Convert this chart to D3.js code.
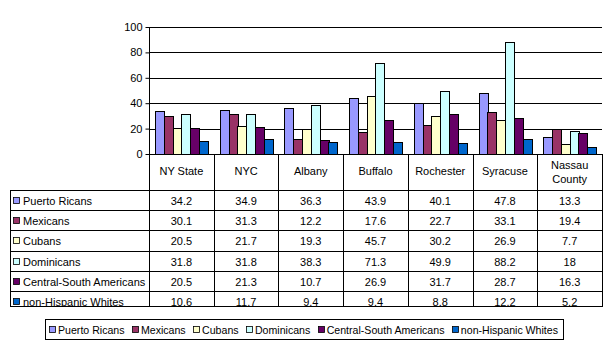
<!DOCTYPE html>
<html><head><meta charset="utf-8">
<script src="https://cdn.jsdelivr.net/npm/d3@7"></script>
<style>
body{margin:0;background:#fff;}
svg{display:block;}
text{font-family:"Liberation Sans",Arial,sans-serif;font-size:11px;fill:#000;}
</style></head>
<body>
<svg id="c" width="616" height="350"></svg>
<script>
const categories = ["NY State","NYC","Albany","Buffalo","Rochester","Syracuse","Nassau County"];
const series = ["Puerto Ricans","Mexicans","Cubans","Dominicans","Central-South Americans","non-Hispanic Whites"];
const colors = ["#9999FF","#993366","#FFFFCC","#CCFFFF","#660066","#0066CC"];
const puertoRicans = [34.2,34.9,36.3,43.9,40.1,47.8,13.3];
const mexicans = [30.1,31.3,12.2,17.6,22.7,33.1,19.4];
const cubans = [20.5,21.7,19.3,45.7,30.2,26.9,7.7];
const dominicans = [31.8,31.8,38.3,71.3,49.9,88.2,18];
const centralSouth = [20.5,21.3,10.7,26.9,31.7,28.7,16.3];
const nhWhites = [10.6,11.7,9.4,9.4,8.8,12.2,5.2];
const yTicks = [0,20,40,60,80,100];
const values = [puertoRicans,mexicans,cubans,dominicans,centralSouth,nhWhites];

(function(){
const svg = d3.select("#c");
const pLeft = 149, pRight = 602, pTop = 27, base = 154;
const x0 = d3.scaleBand().domain(categories).range([pLeft,pRight]);
const bw = x0.bandwidth();
const gap = 6;
const x1 = d3.scaleBand().domain(series).range([gap,bw-gap]);
const y = d3.scaleLinear().domain([0,100]).range([base,pTop]);

// gridlines
svg.append("g").selectAll("line").data(yTicks.filter(d=>d>0)).join("line")
  .attr("x1",pLeft).attr("x2",pRight).attr("y1",d=>Math.round(y(d))+0.5).attr("y2",d=>Math.round(y(d))+0.5)
  .attr("stroke","#000");

// y axis
const yAxis = d3.axisLeft(y).tickValues(yTicks).tickSize(4).tickPadding(3).tickFormat(d3.format("d"));
const ga = svg.append("g").attr("transform",`translate(${pLeft+0.5},0)`).call(yAxis);
ga.select(".domain").attr("d",`M0,${pTop}V${base}`).attr("stroke","#000");
ga.selectAll(".tick line").attr("stroke","#000");
ga.selectAll(".tick text").style("font-size","11px").style("font-family","Liberation Sans, Arial, sans-serif");

// bars
const gb = svg.append("g");
series.forEach((s,si)=>{
  gb.append("g").selectAll("rect").data(values[si]).join("rect")
    .attr("x",(d,i)=>Math.round(x0(categories[i])+x1(s))+0.5)
    .attr("y",d=>Math.round(y(d))+0.5)
    .attr("width",Math.round(x1.bandwidth()))
    .attr("height",d=>Math.round(base)-Math.round(y(d)))
    .attr("fill",colors[si]).attr("stroke","#000").attr("stroke-width",1);
});

// x axis line
svg.append("line").attr("x1",pLeft).attr("x2",pRight).attr("y1",base+0.5).attr("y2",base+0.5).attr("stroke","#000");

// table
const tLeft = 10, headTop = base, rowTop = 190, rowH = 20.2, tBottom = 306;
const gt = svg.append("g");
const colEdges = categories.map(c=>x0(c)).concat([pRight]);
gt.selectAll("line.col").data(colEdges).join("line")
  .attr("x1",d=>Math.round(d)+0.5).attr("x2",d=>Math.round(d)+0.5)
  .attr("y1",headTop).attr("y2",tBottom).attr("stroke","#000");
gt.append("line").attr("x1",tLeft+0.5).attr("x2",tLeft+0.5).attr("y1",rowTop).attr("y2",tBottom).attr("stroke","#000");
const rowLines = series.map((s,i)=>rowTop+i*rowH).concat([tBottom]);
gt.selectAll("line.row").data(rowLines).join("line")
  .attr("x1",tLeft).attr("x2",pRight+1).attr("y1",d=>Math.round(d)+0.5).attr("y2",d=>Math.round(d)+0.5).attr("stroke","#000");

categories.forEach(c=>{
  const cx = x0(c)+bw/2;
  const words = c==="Nassau County" ? ["Nassau","County"] : [c];
  const t = gt.append("text").attr("text-anchor","middle");
  if(words.length===1){
    t.attr("x",cx).attr("y",175).text(c);
  } else {
    t.append("tspan").attr("x",cx).attr("y",169).text(words[0]);
    t.append("tspan").attr("x",cx).attr("y",183).text(words[1]);
  }
});

svg.append("defs").append("clipPath").attr("id","tclip").append("rect")
  .attr("x",0).attr("y",rowTop).attr("width",616).attr("height",tBottom-rowTop);
const body = gt.append("g").attr("clip-path","url(#tclip)");
series.forEach((s,si)=>{
  const ry = rowTop+si*rowH;
  body.append("rect").attr("x",13.5).attr("y",Math.round(ry+7)+0.5).attr("width",6).attr("height",6)
    .attr("fill",colors[si]).attr("stroke","#000").attr("stroke-width",0.8);
  body.append("text").attr("x",23).attr("y",ry+15).text(s);
  values[si].forEach((v,i)=>{
    body.append("text").attr("x",x0(categories[i])+bw/2).attr("y",ry+15)
      .attr("text-anchor","middle").text(String(v));
  });
});

// legend
const lg = svg.append("g");
lg.append("rect").attr("x",45.5).attr("y",319.5).attr("width",518).attr("height",20)
  .attr("fill","#fff").attr("stroke","#000");
const items = series.map((s,si)=>{
  const r = lg.append("rect").attr("y",326.5).attr("width",6).attr("height",6)
    .attr("fill",colors[si]).attr("stroke","#000").attr("stroke-width",0.8);
  const t = lg.append("text").attr("y",333.5).style("font-size","10.6px").text(s);
  return {r,t,w:t.node().getComputedTextLength()};
});
const startX = 49, endX = 558;
const totalW = d3.sum(items,d=>d.w) + items.length*9;
const lgap = (endX-startX-totalW)/(items.length-1);
let lx = startX;
items.forEach(it=>{
  it.r.attr("x",Math.round(lx)+0.5);
  it.t.attr("x",lx+9);
  lx += 9 + it.w + lgap;
});
})();
</script>
</body></html>
